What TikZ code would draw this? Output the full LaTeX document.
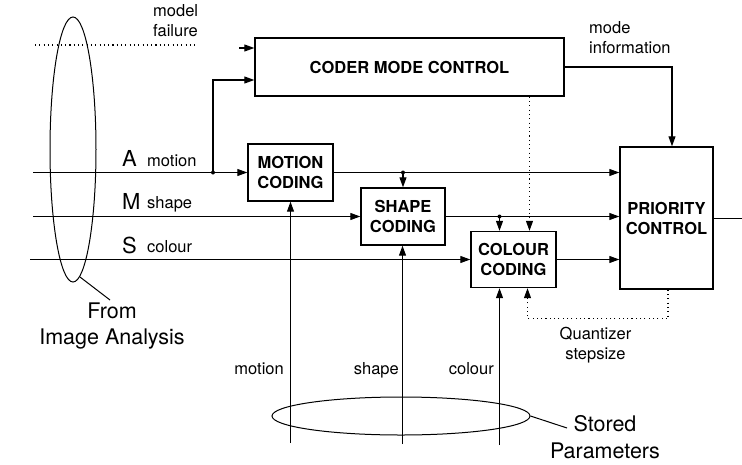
\documentclass[tikz,border=0pt]{standalone}
\usepackage{fontspec}
\setmainfont{TeX Gyre Heros}
\usetikzlibrary{arrows.meta,shapes.geometric,calc}
\tikzset{
  line/.style={line width=1.1pt},
  arr/.style={line width=1.1pt,-{Triangle[length=10pt,width=7pt]}},
  dotline/.style={line width=1.1pt,dash pattern=on 1.1pt off 3.2pt},
  dotarr/.style={dotline,-{Triangle[length=10pt,width=7pt]}},
  blk/.style={draw,line width=1.4pt,inner sep=0pt,align=center,
    font={\fontsize{16.5}{20}\selectfont\bfseries}},
  lbl/.style={inner sep=0pt,font={\fontsize{16.5}{19.5}\selectfont}},
  big/.style={inner sep=0pt,align=center,font={\fontsize{21.5}{26.5}\selectfont}},
  letter/.style={inner sep=0pt,font={\fontsize{22}{24}\selectfont}},
  oval/.style={draw,ellipse,line width=1pt,inner sep=0pt},
  dot/.style={circle,fill,inner sep=0pt,minimum size=4pt}
}
\begin{document}
\begin{tikzpicture}[x=1pt,y=-1pt]
\useasboundingbox (0,0) rectangle (742,464);

% blocks
\node[blk,minimum width=309pt,minimum height=58pt] (cmc) at (409.5,67) {CODER MODE CONTROL};
\node[blk,minimum width=85pt,minimum height=57pt] (motion) at (290.5,172.5) {MOTION\\CODING};
\node[blk,minimum width=84pt,minimum height=57pt] (shape) at (403,216.5) {SHAPE\\CODING};
\node[blk,minimum width=85pt,minimum height=56pt] (colour) at (513.5,259.5) {COLOUR\\CODING};
\node[blk,minimum width=93pt,minimum height=142pt] (prio) at (666.5,218) {PRIORITY\\CONTROL};

% ellipses
\node[oval,minimum width=46pt,minimum height=265pt] (src) at (73,149.5) {};
\node[oval,minimum width=258pt,minimum height=38pt] (store) at (401,416) {};

% texts
\node[lbl,align=left,anchor=base west] (mf) at (153,36) {model\\failure};
\node[lbl,align=left,anchor=base west] (mi) at (589,53) {mode\\information};
\node[letter,anchor=base west] (lA) at (122,166) {A};
\node[lbl,anchor=base west] (tA) at (147,166) {motion};
\node[letter,anchor=base west] (lM) at (122,209) {M};
\node[lbl,anchor=base west] (tM) at (147,208) {shape};
\node[letter,anchor=base west] (lS) at (122,253) {S};
\node[lbl,anchor=base west] (tS) at (147,252) {colour};
\node[big] (from) at (112,326) {From\\Image Analysis};
\node[big] (stored) at (605,437) {Stored\\Parameters};
\node[lbl,align=center] (qs) at (595.5,345) {Quantizer\\stepsize};
\node[lbl,anchor=base east] (bmt) at (284,374) {motion};
\node[lbl,anchor=base east] (bsh) at (399,374) {shape};
\node[lbl,anchor=base east] (bco) at (494,374) {colour};

% coordinates
\coordinate (inA) at (33,172.5);
\coordinate (inM) at (33,216.5);
\coordinate (inS) at (30,259.5);
\coordinate (ja) at (213,172.5);
\coordinate (jb) at (shape.north |- motion.east);
\coordinate (c1) at ([xshift=-14pt]colour.north);
\coordinate (c2) at ([xshift=16pt]colour.north);
\coordinate (jc) at (c1 |- shape.east);
\coordinate (c1b) at ([xshift=-14pt]colour.south);
\coordinate (c2b) at ([xshift=14pt]colour.south);
\coordinate (pin) at ([xshift=5.5pt]prio.north);
\coordinate (pout) at ([xshift=1.5pt]prio.south);
\coordinate (out) at (742,218.5);
\coordinate (mf1) at (35,45);
\coordinate (mf2) at (195,45);
\coordinate (bm) at (290.5,443);
\coordinate (bs) at (402.5,444);
\coordinate (bc) at (499.5,445);
\coordinate (e1) at (80,277);
\coordinate (e2) at (110,300);
\coordinate (s2) at (567,428);

% input lines
\draw[arr] (inA) -- (inA -| motion.west);
\draw[arr] (inM) -- (inM -| shape.west);
\draw[arr] (inS) -- (inS -| colour.west);

% coder mode control
\draw[dotline] (mf1) -- (mf2);
\draw[arr] ([xshift=-15pt,yshift=19pt]cmc.west) -- ([yshift=19pt]cmc.west);
\draw[arr] (ja) |- ([yshift=-13pt]cmc.west);
\node[dot] (dja) at (ja) {};
\draw[arr] (cmc.east) -| (pin);
\draw[dotarr] (cmc.south -| c2) -- (c2);

% coding outputs
\draw[arr] (motion.east) -- (motion.east -| prio.west);
\draw[arr] (jb) -- (shape.north);
\node[dot] (djb) at (jb) {};
\draw[arr] (shape.east) -- (shape.east -| prio.west);
\draw[arr] (jc) -- (c1);
\node[dot] (djc) at (jc) {};
\draw[arr] (colour.east) -- (colour.east -| prio.west);
\draw[line] (prio.east |- out) -- (out);

% quantizer
\draw[dotarr] (pout) -- ++(0,29) -| (c2b);

% stored parameters
\draw[arr] (bm) -- (bm |- motion.south);
\draw[arr] (bs) -- (bs |- shape.south);
\draw[arr] (bc) -- (c1b);

% leader lines
\draw[line width=1pt] (e1) -- (e2);
\draw[line width=1pt] (store.east) -- (s2);
\end{tikzpicture}
\end{document}
